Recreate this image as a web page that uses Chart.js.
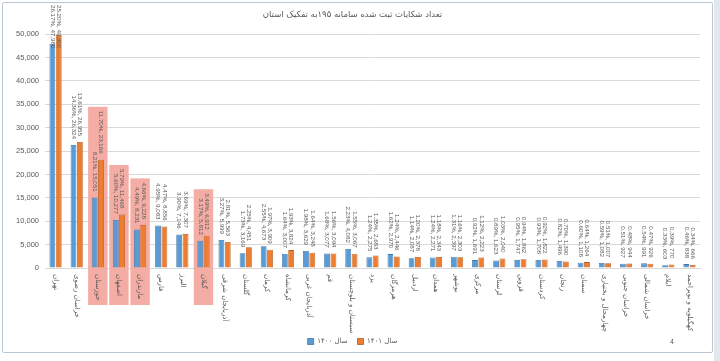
<!DOCTYPE html>
<html>
<head>
<meta charset="utf-8">
<script src="https://cdn.jsdelivr.net/npm/chart.js@4.4.1/dist/chart.umd.min.js"></script>
<style>
  html, body { margin: 0; padding: 0; background: #fff; }
  #wrap { position: relative; width: 720px; height: 361px; overflow: hidden; }
  #chart { position: absolute; left: 0; top: 0; }
  #frame { position: absolute; left: 2px; top: 2px; width: 711px; height: 351px; box-sizing: border-box;
           border: 1.5px solid #b9c7d4; border-radius: 2px; pointer-events: none; }
  #edge { position: absolute; left: 714px; top: 0; width: 6px; height: 361px; background: #e3e8ec; }
</style>
</head>
<body>
<div id="wrap">
  <canvas id="chart" width="720" height="361"></canvas>
  <div id="frame"></div>
  <div id="edge"></div>
</div>
<script>
// complaints registered in the 195 system, by province
const provinces = [
  'تهران', 'خراسان رضوی', 'خوزستان', 'اصفهان', 'مازندران', 'فارس', 'البرز', 'گیلان',
  'آذربایجان شرقی', 'گلستان', 'کرمان', 'کرمانشاه', 'آذربایجان غربی', 'قم',
  'سیستان و بلوچستان', 'یزد', 'هرمزگان', 'اردبیل', 'همدان', 'بوشهر', 'مرکزی',
  'لرستان', 'قزوین', 'کردستان', 'زنجان', 'سمنان', 'چهارمحال و بختیاری',
  'خراسان جنوبی', 'خراسان شمالی', 'ایلام', 'کهگیلویه و بویراحمد'
];
const count1400 = [47980, 26324, 15051, 10277, 8231, 9083, 7146, 5812, 5999, 3169, 4673, 3007, 3629, 3077,
  4082, 2275, 2970, 2087, 2271, 2397, 1691, 1623, 1747, 1708, 1496, 1108, 1082, 927, 991, 603, 838];
const count1401 = [49900, 26955, 23166, 11468, 9228, 8856, 7307, 6912, 5563, 4451, 3909, 3824, 3248, 3094,
  3067, 2683, 2446, 2378, 2343, 2303, 2223, 2040, 1862, 1822, 1390, 1264, 1007, 944, 926, 770, 666];
const share1400 = ['26.17', '14.36', '8.21', '5.60', '4.49', '4.95', '3.90', '3.17', '3.27', '1.73', '2.55', '1.64',
  '1.98', '1.68', '2.23', '1.24', '1.62', '1.14', '1.24', '1.31', '0.92', '0.89', '0.95', '0.93', '0.82', '0.60',
  '0.59', '0.51', '0.54', '0.33', '0.46'];
const share1401 = ['25.20', '13.61', '11.70', '5.79', '4.66', '4.47', '3.69', '3.49', '2.81', '2.25', '1.97', '1.93',
  '1.64', '1.56', '1.55', '1.35', '1.24', '1.20', '1.18', '1.16', '1.12', '1.03', '0.94', '0.92', '0.70', '0.64',
  '0.51', '0.48', '0.47', '0.39', '0.34'];
const highlighted = ['خوزستان', 'اصفهان', 'مازندران', 'گیلان'];
const yMax = 50000;
const yStep = 5000;

const GREY = '#595959';
const LABEL_FONT = '6.2px "Liberation Sans", Arial, sans-serif';
const CAT_FONT = '7px "DejaVu Sans", sans-serif';

// label geometry (shared by the highlight boxes and the label drawing)
function labelBoxes(chart) {
  const ctx = chart.ctx;
  ctx.save();
  ctx.font = LABEL_FONT;
  const out = [];
  chart.data.datasets.forEach((ds, di) => {
    const meta = chart.getDatasetMeta(di);
    meta.data.forEach((bar, i) => {
      const txt = ds.share[i] + '%, ' + ds.data[i].toLocaleString('en-US');
      const w = ctx.measureText(txt).width;
      let end = bar.y - 6;
      if (end - w < 5) end = 5 + w; // no room above: push down over the bar
      out.push({ i, x: bar.x, end, top: end - w, txt });
    });
  });
  ctx.restore();
  return out;
}

const decorations = {
  id: 'decorations',
  beforeDatasetsDraw(chart) {
    const { ctx, chartArea } = chart;
    const xs = chart.scales.x;
    const boxes = labelBoxes(chart);
    const half = (xs.getPixelForValue(1) - xs.getPixelForValue(0)) * 0.46;
    ctx.save();
    ctx.fillStyle = '#f4ada4';
    highlighted.forEach(name => {
      const i = provinces.indexOf(name);
      const top = Math.min(...boxes.filter(b => b.i === i).map(b => b.top)) - 4;
      const cx = xs.getPixelForValue(i);
      ctx.fillRect(cx - half, top, half * 2, chartArea.bottom + 37 - top);
    });
    ctx.restore();
  },
  afterDatasetsDraw(chart) {
    const { ctx, chartArea } = chart;
    const xs = chart.scales.x;
    ctx.save();
    ctx.fillStyle = GREY;
    ctx.font = LABEL_FONT;
    ctx.textBaseline = 'middle';
    labelBoxes(chart).forEach(b => {
      ctx.save();
      ctx.translate(b.x, b.end);
      ctx.rotate(Math.PI / 2);
      ctx.textAlign = 'right';
      ctx.fillText(b.txt, 0, 0);
      ctx.restore();
    });
    // category names, rotated to read downwards
    ctx.font = CAT_FONT;
    provinces.forEach((name, i) => {
      ctx.save();
      ctx.translate(xs.getPixelForValue(i), chartArea.bottom + 6);
      ctx.rotate(Math.PI / 2);
      ctx.textAlign = 'left';
      ctx.fillText(name, 0, 0);
      ctx.restore();
    });
    // page number
    ctx.font = '7px "Liberation Sans", Arial, sans-serif';
    ctx.textAlign = 'center';
    ctx.fillText('4', 672, 342);
    ctx.restore();
  }
};

new Chart(document.getElementById('chart'), {
  type: 'bar',
  data: {
    labels: provinces,
    datasets: [
      { label: 'سال ۱۴۰۰', data: count1400, share: share1400,
        backgroundColor: '#5b9bd5', borderColor: '#3f77aa', borderWidth: 0.8 },
      { label: 'سال ۱۴۰۱', data: count1401, share: share1401,
        backgroundColor: '#ed7d31', borderColor: '#b75c1f', borderWidth: 0.8 }
    ]
  },
  options: {
    responsive: false,
    animation: false,
    devicePixelRatio: 1,
    categoryPercentage: 0.6,
    barPercentage: 0.92,
    layout: { padding: { left: 5, right: 20, top: 0, bottom: 6 } },
    plugins: {
      title: {
        display: true,
        text: 'تعداد شکایات ثبت شده سامانه ۱۹۵به تفکیک استان',
        color: GREY,
        font: { family: '"DejaVu Sans", sans-serif', size: 8.5, weight: 'normal' },
        padding: { top: 10, bottom: 14 }
      },
      legend: {
        position: 'bottom',
        labels: {
          color: GREY,
          boxWidth: 6,
          boxHeight: 6,
          padding: 10,
          font: { family: '"DejaVu Sans", sans-serif', size: 7 }
        }
      },
      tooltip: { enabled: false }
    },
    scales: {
      x: {
        grid: { display: false },
        border: { display: true, color: '#d9d9d9' },
        ticks: { display: false },
        afterFit(scale) { scale.height = 60; }
      },
      y: {
        min: 0,
        max: yMax,
        grid: { color: '#d9d9d9', drawTicks: false },
        border: { display: false },
        ticks: {
          stepSize: yStep,
          color: GREY,
          padding: 6,
          font: { family: '"Liberation Sans", Arial, sans-serif', size: 7.5 },
          callback: v => v.toLocaleString('en-US')
        },
        afterFit(scale) { scale.width = 40; }
      }
    }
  },
  plugins: [decorations]
});
</script>
</body>
</html>
